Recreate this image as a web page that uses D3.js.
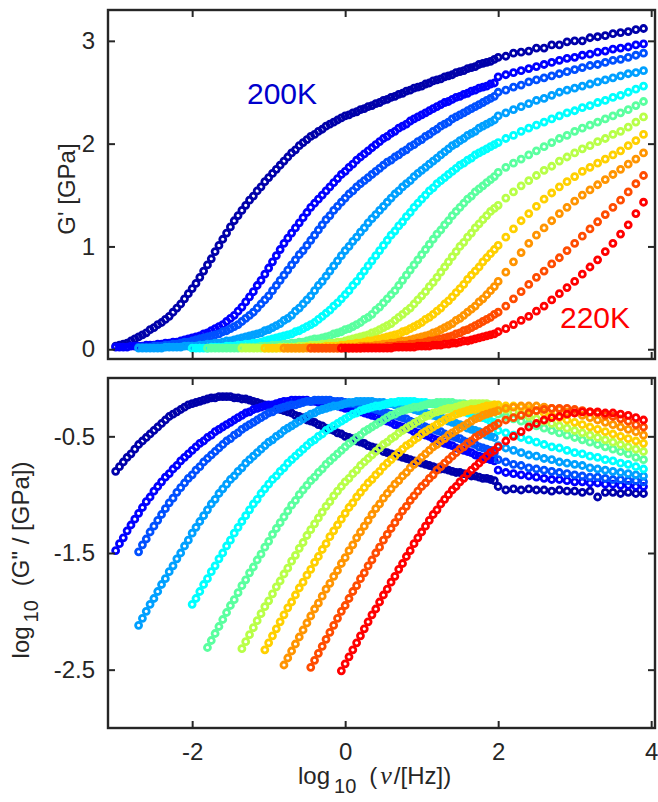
<!DOCTYPE html>
<html>
<head>
<meta charset="utf-8">
<script src="https://cdn.jsdelivr.net/npm/d3@7"></script>
<style>
  body { margin: 0; background: #fff; }
  svg { display: block; font-family: "Liberation Sans", Arial, sans-serif; }
</style>
</head>
<body>
<script>
// temperatures of the 11 spectra (200K .. 220K)
const temps = [200, 202, 204, 206, 208, 210, 212, 214, 216, 218, 220];

// log10 frequency grids: low-frequency sweep and high-frequency sweep
const logNuLow = [
  -3.00,-2.95,-2.90,-2.85,-2.80,-2.75,-2.70,-2.65,-2.60,-2.55,
  -2.50,-2.45,-2.40,-2.35,-2.30,-2.25,-2.20,-2.15,-2.10,-2.05,
  -2.00,-1.95,-1.90,-1.85,-1.80,-1.75,-1.70,-1.65,-1.60,-1.55,
  -1.50,-1.45,-1.40,-1.35,-1.30,-1.25,-1.20,-1.15,-1.10,-1.05,
  -1.00,-0.95,-0.90,-0.85,-0.80,-0.75,-0.70,-0.65,-0.60,-0.55,
  -0.50,-0.45,-0.40,-0.35,-0.30,-0.25,-0.20,-0.15,-0.10,-0.05,
  0.00,0.05,0.10,0.15,0.20,0.25,0.30,0.35,0.40,0.45,
  0.50,0.55,0.60,0.65,0.70,0.75,0.80,0.85,0.90,0.95,
  1.00,1.05,1.10,1.15,1.20,1.25,1.30,1.35,1.40,1.45,
  1.50,1.55,1.60,1.65,1.70,1.75,1.80,1.85,1.90,1.95
];
const logNuHigh = [2.0,2.1,2.2,2.3,2.4,2.5,2.6,2.7,2.8,2.9,3.0,3.1,3.2,3.3,3.4,3.5,3.6,3.7,3.8,3.9];

// G' [GPa]; each array = low sweep (ending at 1.95) followed by the 20 high sweep values
const gp200 = [
  0.03,0.04,0.05,0.06,0.08,0.10,0.12,0.14,0.16,0.19,
  0.21,0.24,0.26,0.29,0.32,0.36,0.40,0.44,0.49,0.54,
  0.59,0.64,0.70,0.76,0.82,0.88,0.95,1.01,1.07,1.13,
  1.19,1.25,1.30,1.35,1.40,1.45,1.49,1.54,1.58,1.63,
  1.67,1.71,1.75,1.79,1.83,1.87,1.91,1.94,1.98,2.01,
  2.04,2.07,2.09,2.12,2.14,2.17,2.19,2.21,2.23,2.25,
  2.27,2.28,2.30,2.31,2.33,2.34,2.36,2.37,2.39,2.40,
  2.42,2.43,2.45,2.46,2.48,2.49,2.51,2.52,2.54,2.55,
  2.56,2.58,2.59,2.61,2.62,2.63,2.65,2.66,2.67,2.69,
  2.70,2.71,2.73,2.74,2.75,2.77,2.78,2.79,2.80,2.82,
  2.84,2.85,2.88,2.89,2.90,2.93,2.93,2.96,2.96,2.99,3.00,3.00,3.03,3.04,3.05,3.07,3.08,3.09,3.11,3.12
];
const gp202 = [
  0.02,0.02,0.02,0.02,0.03,0.03,0.03,0.03,0.04,0.04,
  0.04,0.05,0.05,0.06,0.06,0.07,0.07,0.08,0.09,0.10,
  0.11,0.12,0.13,0.15,0.16,0.18,0.20,0.22,0.24,0.27,
  0.30,0.33,0.37,0.41,0.46,0.51,0.56,0.62,0.67,0.73,
  0.79,0.85,0.91,0.97,1.03,1.08,1.13,1.18,1.23,1.28,
  1.33,1.38,1.42,1.46,1.50,1.54,1.58,1.62,1.66,1.70,
  1.73,1.77,1.80,1.84,1.87,1.90,1.93,1.96,1.99,2.02,
  2.05,2.07,2.10,2.12,2.15,2.17,2.19,2.22,2.24,2.26,
  2.28,2.30,2.32,2.34,2.36,2.38,2.40,2.41,2.43,2.45,
  2.46,2.48,2.49,2.51,2.52,2.54,2.55,2.56,2.58,2.59,
  2.65,2.67,2.69,2.71,2.73,2.75,2.77,2.79,2.81,2.83,2.84,2.86,2.87,2.89,2.90,2.92,2.93,2.94,2.96,2.97
];
const gp204 = [
  0.02,0.02,0.02,0.02,0.03,0.03,0.03,0.04,0.04,0.05,
  0.05,0.06,0.07,0.07,0.08,0.09,0.10,0.11,0.12,0.13,
  0.14,0.15,0.17,0.18,0.20,0.22,0.24,0.27,0.30,0.33,
  0.36,0.40,0.44,0.48,0.52,0.57,0.62,0.67,0.72,0.77,
  0.82,0.87,0.92,0.96,1.01,1.06,1.11,1.16,1.21,1.26,
  1.30,1.35,1.39,1.43,1.47,1.51,1.54,1.58,1.61,1.64,
  1.67,1.70,1.73,1.76,1.79,1.82,1.84,1.87,1.89,1.92,
  1.94,1.97,1.99,2.02,2.04,2.07,2.09,2.12,2.14,2.17,
  2.19,2.21,2.24,2.26,2.28,2.30,2.32,2.34,2.36,2.38,
  2.40,2.42,2.44,2.46,
  2.50,2.52,2.55,2.57,2.60,2.62,2.64,2.66,2.68,2.70,2.72,2.74,2.76,2.77,2.79,2.81,2.82,2.84,2.86,2.88
];
const gp206 = [
  0.01,0.01,0.01,0.01,0.01,0.01,0.01,0.02,0.02,0.02,
  0.02,0.02,0.03,0.03,0.03,0.03,0.04,0.04,0.05,0.05,
  0.06,0.06,0.07,0.08,0.08,0.09,0.10,0.11,0.12,0.13,
  0.14,0.15,0.16,0.18,0.19,0.21,0.23,0.25,0.28,0.30,
  0.33,0.37,0.40,0.44,0.48,0.52,0.57,0.62,0.66,0.71,
  0.76,0.81,0.86,0.91,0.96,1.00,1.05,1.09,1.14,1.18,
  1.23,1.27,1.31,1.35,1.39,1.43,1.47,1.51,1.54,1.58,
  1.61,1.64,1.68,1.71,1.74,1.77,1.80,1.83,1.86,1.89,
  1.92,1.95,1.98,2.00,2.03,2.05,2.08,2.10,2.12,2.15,
  2.17,2.19,2.21,2.23,
  2.27,2.30,2.33,2.36,2.39,2.42,2.44,2.47,2.50,2.52,2.54,2.56,2.58,2.60,2.62,2.64,2.66,2.68,2.69,2.71
];
const gp208 = [
  0.01,0.01,0.01,0.01,0.01,0.02,0.02,0.02,0.02,0.03,
  0.03,0.03,0.04,0.04,0.05,0.05,0.06,0.06,0.07,0.08,
  0.09,0.10,0.11,0.12,0.13,0.14,0.15,0.17,0.18,0.20,
  0.22,0.24,0.26,0.29,0.32,0.35,0.38,0.42,0.45,0.49,
  0.53,0.57,0.62,0.66,0.71,0.76,0.81,0.86,0.91,0.96,
  1.01,1.06,1.11,1.15,1.20,1.24,1.29,1.33,1.38,1.42,
  1.46,1.50,1.54,1.57,1.61,1.64,1.67,1.70,1.73,1.76,
  1.79,1.81,1.84,1.86,1.89,1.91,1.93,1.95,1.97,1.99,
  2.01,2.05,2.08,2.12,2.15,2.18,2.21,2.24,2.27,2.30,2.32,2.35,2.37,2.40,2.42,2.45,2.47,2.50,2.53,2.56
];
const gp210 = [
  0.01,0.01,0.01,0.01,0.01,0.01,0.01,0.01,0.01,0.02,
  0.02,0.02,0.02,0.02,0.03,0.03,0.03,0.04,0.04,0.04,
  0.05,0.05,0.06,0.06,0.07,0.07,0.08,0.09,0.10,0.10,
  0.11,0.12,0.13,0.15,0.16,0.17,0.19,0.20,0.22,0.24,
  0.26,0.29,0.31,0.34,0.38,0.41,0.45,0.49,0.53,0.57,
  0.62,0.67,0.72,0.77,0.82,0.87,0.92,0.97,1.02,1.07,
  1.12,1.16,1.21,1.25,1.30,1.34,1.38,1.42,1.46,1.49,
  1.53,1.56,1.59,1.62,1.65,1.68,
  1.72,1.77,1.81,1.85,1.89,1.93,1.97,2.01,2.05,2.08,2.12,2.15,2.18,2.21,2.24,2.27,2.30,2.33,2.37,2.41
];
const gp212 = [
  0.01,0.01,0.01,0.01,0.01,0.01,0.01,0.01,0.01,0.01,
  0.02,0.02,0.02,0.02,0.02,0.03,0.03,0.03,0.04,0.04,
  0.04,0.05,0.05,0.06,0.06,0.07,0.07,0.08,0.09,0.10,
  0.11,0.12,0.13,0.14,0.16,0.17,0.19,0.21,0.23,0.25,
  0.28,0.31,0.34,0.37,0.40,0.44,0.48,0.52,0.56,0.61,
  0.65,0.70,0.75,0.80,0.85,0.90,0.95,1.00,1.04,1.09,
  1.13,1.18,1.22,1.26,1.30,1.34,1.37,
  1.40,1.47,1.53,1.59,1.64,1.69,1.74,1.78,1.83,1.87,1.91,1.95,1.98,2.02,2.05,2.09,2.12,2.16,2.21,2.26
];
const gp214 = [
  0.01,0.01,0.01,0.01,0.01,0.01,0.01,0.01,0.01,0.01,
  0.01,0.02,0.02,0.02,0.02,0.02,0.03,0.03,0.03,0.03,
  0.04,0.04,0.05,0.05,0.06,0.06,0.07,0.08,0.08,0.09,
  0.10,0.11,0.12,0.13,0.14,0.15,0.17,0.18,0.20,0.22,
  0.24,0.26,0.29,0.31,0.34,0.37,0.40,0.44,0.47,0.51,
  0.55,0.59,0.63,0.68,0.72,0.76,0.80,0.85,0.89,0.93,
  0.97,
  1.01,1.09,1.17,1.25,1.32,1.39,1.46,1.52,1.58,1.63,1.68,1.73,1.77,1.81,1.85,1.89,1.93,1.98,2.03,2.09
];
const gp216 = [
  0.01,0.01,0.01,0.01,0.01,0.01,0.01,0.01,0.01,0.01,
  0.01,0.01,0.01,0.01,0.01,0.02,0.02,0.02,0.02,0.02,
  0.03,0.03,0.03,0.03,0.04,0.04,0.05,0.05,0.06,0.06,
  0.07,0.08,0.08,0.09,0.10,0.11,0.12,0.13,0.14,0.16,
  0.17,0.19,0.21,0.23,0.25,0.28,0.30,0.33,0.36,0.39,
  0.42,0.46,0.49,0.53,0.57,0.61,
  0.66,0.75,0.85,0.94,1.03,1.11,1.18,1.25,1.32,1.38,1.44,1.50,1.55,1.60,1.65,1.70,1.75,1.80,1.85,1.91
];
const gp218 = [
  0.01,0.01,0.01,0.01,0.01,0.01,0.01,0.01,0.01,0.01,
  0.01,0.01,0.01,0.01,0.02,0.02,0.02,0.02,0.02,0.02,
  0.03,0.03,0.03,0.04,0.04,0.04,0.05,0.05,0.06,0.06,
  0.07,0.08,0.08,0.09,0.10,0.11,0.12,0.13,0.15,0.16,
  0.18,0.19,0.21,0.23,0.25,0.27,0.29,0.31,0.34,
  0.36,0.42,0.49,0.56,0.63,0.70,0.76,0.83,0.89,0.96,1.03,1.10,1.17,1.24,1.31,1.38,1.45,1.53,1.61,1.69
];
const gp220 = [
  0.01,0.01,0.01,0.01,0.01,0.01,0.01,0.01,0.01,0.01,
  0.01,0.01,0.01,0.01,0.02,0.02,0.02,0.02,0.02,0.02,
  0.03,0.03,0.03,0.03,0.04,0.04,0.04,0.05,0.05,0.06,
  0.06,0.07,0.08,0.08,0.09,0.10,0.11,0.12,0.13,0.14,
  0.15,
  0.17,0.20,0.24,0.28,0.32,0.37,0.42,0.48,0.54,0.60,0.66,0.73,0.80,0.87,0.95,1.03,1.12,1.21,1.32,1.43
];

// log10(G''/GPa), same layout as above
const gpp200 = [
  -0.80,-0.76,-0.72,-0.68,-0.65,-0.61,-0.57,-0.54,-0.51,-0.48,
  -0.45,-0.42,-0.39,-0.36,-0.33,-0.31,-0.29,-0.27,-0.25,-0.23,
  -0.22,-0.21,-0.20,-0.19,-0.18,-0.17,-0.17,-0.16,-0.16,-0.16,
  -0.16,-0.17,-0.17,-0.18,-0.18,-0.19,-0.20,-0.21,-0.22,-0.23,
  -0.24,-0.25,-0.26,-0.27,-0.28,-0.29,-0.30,-0.32,-0.33,-0.34,
  -0.36,-0.37,-0.38,-0.40,-0.41,-0.43,-0.44,-0.45,-0.47,-0.48,
  -0.50,-0.51,-0.52,-0.54,-0.55,-0.56,-0.58,-0.59,-0.60,-0.61,
  -0.63,-0.64,-0.65,-0.66,-0.67,-0.68,-0.69,-0.70,-0.71,-0.72,
  -0.73,-0.74,-0.75,-0.76,-0.77,-0.78,-0.78,-0.79,-0.80,-0.81,
  -0.81,-0.82,-0.83,-0.84,-0.84,-0.85,-0.86,-0.86,-0.87,-0.88,
  -0.93,-0.96,-0.95,-0.96,-0.95,-0.96,-0.96,-0.97,-0.96,-0.97,-0.97,-0.98,-0.97,-1.02,-0.98,-0.98,-0.99,-0.98,-0.99,-0.99
];
const gpp202 = [
  -1.48,-1.42,-1.37,-1.31,-1.26,-1.21,-1.16,-1.11,-1.06,-1.02,
  -0.97,-0.93,-0.89,-0.85,-0.82,-0.78,-0.75,-0.71,-0.68,-0.65,
  -0.62,-0.59,-0.56,-0.54,-0.51,-0.49,-0.46,-0.44,-0.42,-0.40,
  -0.38,-0.36,-0.34,-0.32,-0.30,-0.29,-0.27,-0.26,-0.25,-0.24,
  -0.23,-0.23,-0.22,-0.21,-0.20,-0.20,-0.19,-0.19,-0.19,-0.19,
  -0.19,-0.20,-0.20,-0.21,-0.21,-0.22,-0.23,-0.23,-0.24,-0.25,
  -0.26,-0.26,-0.27,-0.28,-0.29,-0.30,-0.31,-0.32,-0.33,-0.35,
  -0.36,-0.37,-0.38,-0.40,-0.41,-0.42,-0.43,-0.44,-0.46,-0.47,
  -0.48,-0.49,-0.50,-0.52,-0.53,-0.55,-0.56,-0.57,-0.58,-0.60,
  -0.61,-0.62,-0.63,-0.64,-0.66,-0.67,-0.68,-0.69,-0.70,-0.71,
  -0.79,-0.81,-0.82,-0.83,-0.84,-0.85,-0.86,-0.87,-0.87,-0.88,-0.89,-0.89,-0.90,-0.90,-0.91,-0.91,-0.92,-0.92,-0.93,-0.93
];
const gpp204 = [
  -1.49,-1.43,-1.38,-1.32,-1.27,-1.22,-1.17,-1.12,-1.07,-1.03,
  -0.98,-0.94,-0.90,-0.86,-0.83,-0.79,-0.76,-0.72,-0.69,-0.66,
  -0.63,-0.60,-0.57,-0.54,-0.52,-0.49,-0.47,-0.44,-0.42,-0.40,
  -0.38,-0.36,-0.34,-0.32,-0.30,-0.29,-0.27,-0.26,-0.25,-0.24,
  -0.23,-0.23,-0.22,-0.21,-0.20,-0.20,-0.19,-0.19,-0.19,-0.19,
  -0.19,-0.20,-0.20,-0.20,-0.21,-0.22,-0.22,-0.23,-0.24,-0.25,
  -0.25,-0.26,-0.27,-0.28,-0.29,-0.30,-0.31,-0.32,-0.33,-0.34,
  -0.35,-0.37,-0.38,-0.39,-0.40,-0.42,-0.43,-0.44,-0.45,-0.46,
  -0.48,-0.49,-0.50,-0.51,-0.52,-0.54,-0.55,-0.56,-0.57,-0.59,
  -0.60,-0.61,-0.62,-0.64,
  -0.70,-0.72,-0.74,-0.75,-0.77,-0.78,-0.79,-0.80,-0.81,-0.82,-0.83,-0.84,-0.85,-0.85,-0.86,-0.87,-0.87,-0.88,-0.88,-0.89
];
const gpp206 = [
  -2.12,-2.06,-2.00,-1.94,-1.89,-1.83,-1.77,-1.72,-1.66,-1.61,
  -1.55,-1.50,-1.44,-1.39,-1.33,-1.28,-1.23,-1.18,-1.13,-1.08,
  -1.04,-0.99,-0.95,-0.91,-0.87,-0.84,-0.80,-0.77,-0.73,-0.70,
  -0.67,-0.64,-0.61,-0.58,-0.55,-0.53,-0.50,-0.48,-0.45,-0.43,
  -0.41,-0.39,-0.37,-0.35,-0.33,-0.31,-0.30,-0.28,-0.27,-0.26,
  -0.25,-0.24,-0.24,-0.23,-0.22,-0.21,-0.21,-0.20,-0.20,-0.20,
  -0.20,-0.20,-0.21,-0.21,-0.21,-0.22,-0.22,-0.23,-0.24,-0.25,
  -0.26,-0.26,-0.27,-0.28,-0.29,-0.30,-0.31,-0.32,-0.33,-0.34,
  -0.35,-0.37,-0.38,-0.39,-0.40,-0.41,-0.43,-0.44,-0.45,-0.46,
  -0.47,-0.49,-0.50,-0.51,
  -0.58,-0.60,-0.62,-0.64,-0.66,-0.67,-0.69,-0.70,-0.72,-0.73,-0.74,-0.75,-0.77,-0.78,-0.79,-0.80,-0.81,-0.82,-0.83,-0.84
];
const gpp208 = [
  -1.94,-1.89,-1.83,-1.77,-1.72,-1.66,-1.61,-1.55,-1.50,-1.44,
  -1.39,-1.33,-1.28,-1.23,-1.18,-1.13,-1.08,-1.04,-0.99,-0.95,
  -0.91,-0.87,-0.84,-0.80,-0.77,-0.73,-0.70,-0.67,-0.64,-0.61,
  -0.58,-0.55,-0.53,-0.50,-0.48,-0.45,-0.43,-0.41,-0.39,-0.37,
  -0.35,-0.33,-0.31,-0.30,-0.28,-0.27,-0.26,-0.25,-0.24,-0.24,
  -0.23,-0.22,-0.21,-0.21,-0.20,-0.20,-0.20,-0.20,-0.20,-0.21,
  -0.21,-0.21,-0.22,-0.22,-0.23,-0.24,-0.25,-0.26,-0.26,-0.27,
  -0.28,-0.29,-0.30,-0.31,-0.32,-0.33,-0.34,-0.35,-0.37,-0.38,
  -0.45,-0.47,-0.49,-0.51,-0.53,-0.55,-0.57,-0.59,-0.60,-0.62,-0.64,-0.65,-0.67,-0.68,-0.70,-0.71,-0.73,-0.74,-0.76,-0.78
];
const gpp210 = [
  -2.31,-2.25,-2.19,-2.13,-2.07,-2.01,-1.95,-1.90,-1.84,-1.78,
  -1.73,-1.67,-1.62,-1.56,-1.51,-1.45,-1.40,-1.34,-1.29,-1.24,
  -1.19,-1.14,-1.09,-1.05,-1.00,-0.96,-0.92,-0.88,-0.85,-0.81,
  -0.78,-0.74,-0.71,-0.68,-0.65,-0.62,-0.59,-0.56,-0.54,-0.51,
  -0.49,-0.46,-0.44,-0.42,-0.40,-0.38,-0.36,-0.34,-0.32,-0.31,
  -0.29,-0.28,-0.27,-0.26,-0.25,-0.25,-0.24,-0.23,-0.22,-0.22,
  -0.21,-0.21,-0.21,-0.21,-0.21,-0.22,-0.22,-0.22,-0.23,-0.23,
  -0.24,-0.25,-0.26,-0.27,-0.27,-0.28,
  -0.31,-0.33,-0.35,-0.37,-0.39,-0.41,-0.43,-0.45,-0.47,-0.49,-0.51,-0.53,-0.55,-0.57,-0.59,-0.61,-0.63,-0.65,-0.68,-0.70
];
const gpp212 = [
  -2.32,-2.26,-2.20,-2.14,-2.08,-2.02,-1.96,-1.91,-1.85,-1.79,
  -1.74,-1.68,-1.63,-1.57,-1.52,-1.46,-1.41,-1.35,-1.30,-1.25,
  -1.20,-1.15,-1.10,-1.06,-1.01,-0.97,-0.93,-0.89,-0.86,-0.82,
  -0.79,-0.75,-0.72,-0.69,-0.66,-0.63,-0.60,-0.57,-0.55,-0.52,
  -0.50,-0.47,-0.45,-0.43,-0.41,-0.39,-0.37,-0.35,-0.33,-0.32,
  -0.30,-0.29,-0.28,-0.27,-0.26,-0.26,-0.25,-0.24,-0.23,-0.23,
  -0.22,-0.22,-0.22,-0.22,-0.22,-0.23,-0.23,
  -0.25,-0.27,-0.29,-0.31,-0.33,-0.35,-0.37,-0.39,-0.41,-0.43,-0.45,-0.47,-0.49,-0.51,-0.53,-0.55,-0.57,-0.59,-0.61,-0.63
];
const gpp214 = [
  -2.33,-2.27,-2.21,-2.15,-2.09,-2.03,-1.97,-1.92,-1.86,-1.80,
  -1.75,-1.69,-1.64,-1.58,-1.53,-1.47,-1.42,-1.36,-1.31,-1.26,
  -1.21,-1.16,-1.11,-1.07,-1.02,-0.98,-0.94,-0.90,-0.87,-0.83,
  -0.80,-0.76,-0.73,-0.70,-0.67,-0.64,-0.61,-0.58,-0.56,-0.53,
  -0.51,-0.48,-0.46,-0.44,-0.42,-0.40,-0.38,-0.36,-0.34,-0.33,
  -0.31,-0.30,-0.29,-0.28,-0.27,-0.27,-0.26,-0.25,-0.24,-0.24,
  -0.23,
  -0.23,-0.24,-0.24,-0.25,-0.27,-0.28,-0.30,-0.32,-0.34,-0.36,-0.38,-0.40,-0.42,-0.44,-0.46,-0.48,-0.50,-0.52,-0.54,-0.56
];
const gpp216 = [
  -2.46,-2.40,-2.34,-2.28,-2.22,-2.16,-2.10,-2.04,-1.98,-1.93,
  -1.87,-1.81,-1.76,-1.70,-1.65,-1.59,-1.54,-1.48,-1.43,-1.37,
  -1.32,-1.27,-1.22,-1.17,-1.12,-1.08,-1.03,-0.99,-0.95,-0.91,
  -0.88,-0.84,-0.81,-0.77,-0.74,-0.71,-0.68,-0.65,-0.62,-0.59,
  -0.57,-0.54,-0.52,-0.49,-0.47,-0.45,-0.43,-0.41,-0.39,-0.37,
  -0.35,-0.34,-0.32,-0.31,-0.30,-0.29,
  -0.28,-0.26,-0.25,-0.24,-0.24,-0.24,-0.25,-0.26,-0.27,-0.29,-0.30,-0.32,-0.34,-0.36,-0.38,-0.40,-0.42,-0.44,-0.46,-0.49
];
const gpp218 = [
  -2.48,-2.42,-2.36,-2.30,-2.24,-2.18,-2.12,-2.06,-2.00,-1.95,
  -1.89,-1.83,-1.78,-1.72,-1.67,-1.61,-1.56,-1.50,-1.45,-1.39,
  -1.34,-1.29,-1.24,-1.19,-1.14,-1.10,-1.05,-1.01,-0.97,-0.93,
  -0.90,-0.86,-0.83,-0.79,-0.76,-0.73,-0.70,-0.67,-0.64,-0.61,
  -0.59,-0.56,-0.54,-0.51,-0.49,-0.47,-0.45,-0.43,-0.41,
  -0.39,-0.36,-0.34,-0.32,-0.30,-0.28,-0.27,-0.26,-0.26,-0.26,-0.27,-0.28,-0.29,-0.30,-0.32,-0.33,-0.35,-0.37,-0.40,-0.42
];
const gpp220 = [
  -2.51,-2.45,-2.39,-2.33,-2.27,-2.21,-2.15,-2.09,-2.03,-1.98,
  -1.92,-1.86,-1.81,-1.75,-1.70,-1.64,-1.59,-1.53,-1.48,-1.42,
  -1.37,-1.32,-1.27,-1.22,-1.17,-1.13,-1.08,-1.04,-1.00,-0.96,
  -0.93,-0.89,-0.86,-0.82,-0.79,-0.76,-0.73,-0.70,-0.67,-0.64,
  -0.62,
  -0.59,-0.54,-0.50,-0.46,-0.42,-0.39,-0.36,-0.34,-0.33,-0.31,-0.30,-0.29,-0.29,-0.29,-0.30,-0.30,-0.31,-0.32,-0.34,-0.36
];

const gpList = [gp200, gp202, gp204, gp206, gp208, gp210, gp212, gp214, gp216, gp218, gp220];
const gppList = [gpp200, gpp202, gpp204, gpp206, gpp208, gpp210, gpp212, gpp214, gpp216, gpp218, gpp220];

// tick values
const xTicks = [-2, 0, 2, 4];
const yTopTicks = [0, 1, 2, 3];
const yBotTicks = [-0.5, -1.5, -2.5];

// jet-like colours, one per temperature
const jet = ['#0000aa', '#0000ff', '#0050ff', '#00a0ff', '#00ffff', '#5aff9f', '#b8ff48', '#ffd000', '#ff9400', '#ff4c00', '#ff0000'];

const W = 658, H = 802;
const axisColor = '#262626';
const font = '"Liberation Sans", Arial, sans-serif';

const x = d3.scaleLinear().domain([-3.1, 4.05]).range([108, 655]);
const yTop = d3.scaleLinear().domain([-0.095, 3.3]).range([359, 10]);
const yBot = d3.scaleLinear().domain([-3.0, 0.0]).range([728, 378]);

const svg = d3.select('body').append('svg')
  .attr('width', W)
  .attr('height', H);

// pair each value with its frequency (low sweep aligned to its end, then high sweep)
function points(vals) {
  const nLow = vals.length - logNuHigh.length;
  const xs = logNuLow.slice(logNuLow.length - nLow).concat(logNuHigh);
  return vals.map((v, i) => ({ nu: xs[i], v: v }));
}

function panel(y, yTicks, list, showX) {
  const g = svg.append('g');

  list.forEach((vals, i) => {
    g.append('g')
      .selectAll('circle')
      .data(points(vals))
      .join('circle')
      .attr('cx', d => x(d.nu))
      .attr('cy', d => y(d.v))
      .attr('r', 3.0)
      .attr('fill', 'none')
      .attr('stroke', jet[i])
      .attr('stroke-width', 2.8);
  });

  const [x0, x1] = x.range();
  const [y1, y0] = y.range();

  const left = g.append('g').attr('transform', `translate(${x0},0)`)
    .call(d3.axisLeft(y).tickValues(yTicks).tickSizeInner(-7).tickSizeOuter(0).tickPadding(13)
      .tickFormat(d => String(d)));
  const right = g.append('g').attr('transform', `translate(${x1},0)`)
    .call(d3.axisRight(y).tickValues(yTicks).tickSizeInner(-7).tickSizeOuter(0).tickFormat(''));
  const top = g.append('g').attr('transform', `translate(0,${y0})`)
    .call(d3.axisTop(x).tickValues(xTicks).tickSizeInner(-7).tickSizeOuter(0).tickFormat(''));
  const bottom = g.append('g').attr('transform', `translate(0,${y1})`)
    .call(d3.axisBottom(x).tickValues(xTicks).tickSizeInner(-7).tickSizeOuter(0).tickPadding(15)
      .tickFormat(showX ? (d => String(d)) : ''));

  [left, right, top, bottom].forEach(a => {
    a.select('.domain').remove();
    a.selectAll('line').attr('stroke', axisColor).attr('stroke-width', 2);
    a.selectAll('text')
      .attr('fill', axisColor)
      .style('font-size', '24px')
      .style('font-family', font);
  });

  g.append('rect')
    .attr('x', x0).attr('y', y0)
    .attr('width', x1 - x0).attr('height', y1 - y0)
    .attr('fill', 'none')
    .attr('stroke', axisColor)
    .attr('stroke-width', 2.4);
}

panel(yTop, yTopTicks, gpList, false);
panel(yBot, yBotTicks, gppList, true);

// annotations
svg.append('text')
  .attr('x', 247).attr('y', 104)
  .style('font-size', '30px')
  .attr('fill', '#0000cc')
  .text(temps[0] + 'K');

svg.append('text')
  .attr('x', 560).attr('y', 328)
  .style('font-size', '30px')
  .attr('fill', '#ff0000')
  .text(temps[temps.length - 1] + 'K');

// axis labels
svg.append('text')
  .attr('transform', 'translate(75,189) rotate(-90)')
  .style('text-anchor', 'middle')
  .style('font-size', '24px')
  .attr('fill', axisColor)
  .text("G' [GPa]");

const yl = svg.append('text')
  .attr('transform', 'translate(29,560) rotate(-90)')
  .style('text-anchor', 'middle')
  .style('font-size', '24px')
  .attr('fill', axisColor);
yl.append('tspan').text('log');
yl.append('tspan').attr('dx', 4).attr('dy', 9).style('font-size', '20px').text('10');
yl.append('tspan').attr('dx', 14).attr('dy', -9).text('(G" / [GPa])');

const xl = svg.append('text')
  .attr('x', 298).attr('y', 784)
  .style('font-size', '24px')
  .attr('fill', axisColor);
xl.append('tspan').text('log');
xl.append('tspan').attr('dx', 4).attr('dy', 9).style('font-size', '20px').text('10');
xl.append('tspan').attr('dx', 13).attr('dy', -9).text('(');
xl.append('tspan').attr('dx', 3)
  .style('font-family', '"Liberation Serif", serif').style('font-style', 'italic').style('font-size', '26px')
  .text('\u03bd');
xl.append('tspan').attr('dx', 2).text('/[Hz])');
</script>
</body>
</html>
